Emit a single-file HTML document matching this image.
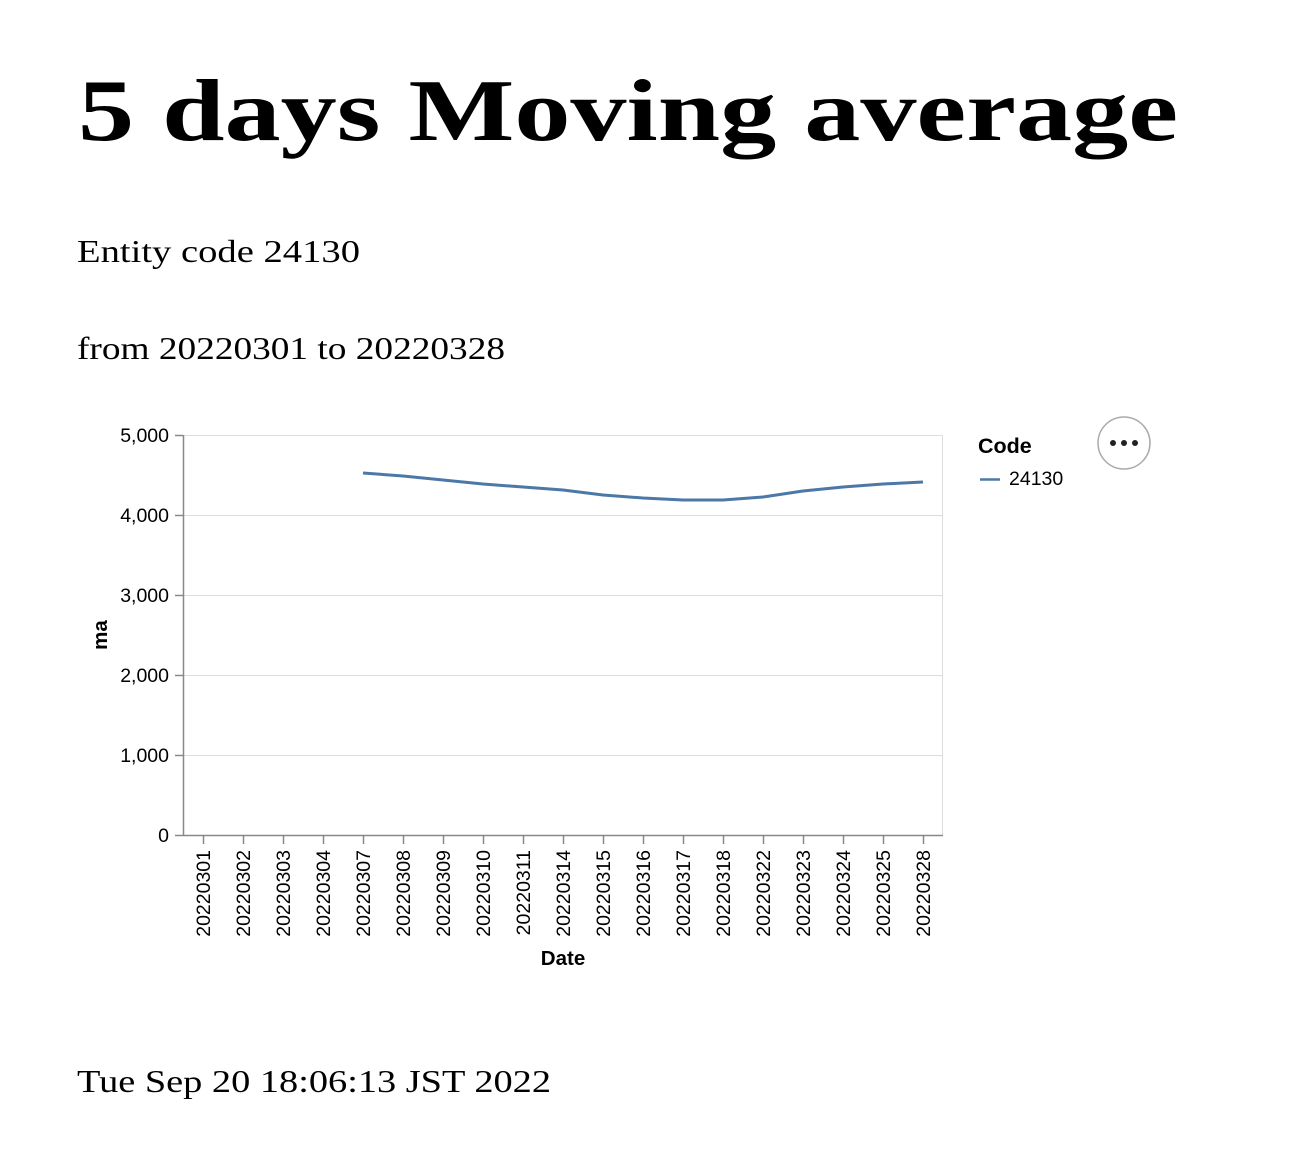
<!DOCTYPE html>
<html><head><meta charset="utf-8"><style>
html,body{margin:0;padding:0;background:#fff;}
svg{display:block;}
.s{font-family:"Liberation Sans",sans-serif;}
</style></head><body>
<svg width="1304" height="1154" viewBox="0 0 1304 1154" xmlns="http://www.w3.org/2000/svg">
<g font-family="Liberation Serif, serif" fill="#000">
<text x="78" y="140" font-size="88" font-weight="bold" textLength="1100" lengthAdjust="spacingAndGlyphs">5 days Moving average</text>
<text x="77" y="262" font-size="32" textLength="283" lengthAdjust="spacingAndGlyphs">Entity code 24130</text>
<text x="77" y="359" font-size="32" textLength="428" lengthAdjust="spacingAndGlyphs">from 20220301 to 20220328</text>
<text x="77" y="1092" font-size="32" textLength="474" lengthAdjust="spacingAndGlyphs">Tue Sep 20 18:06:13 JST 2022</text>
</g>
<g stroke="#ddd" stroke-width="1">
<line x1="183" y1="435.5" x2="943" y2="435.5"/>
<line x1="183" y1="515.5" x2="943" y2="515.5"/>
<line x1="183" y1="595.5" x2="943" y2="595.5"/>
<line x1="183" y1="675.5" x2="943" y2="675.5"/>
<line x1="183" y1="755.5" x2="943" y2="755.5"/>
<line x1="942.5" y1="435" x2="942.5" y2="835"/>
</g>
<g stroke="#888" stroke-width="1.5">
<line x1="183.5" y1="435" x2="183.5" y2="836"/>
<line x1="183" y1="835.5" x2="943" y2="835.5"/>
<line x1="175" y1="435.5" x2="183" y2="435.5"/>
<line x1="175" y1="515.5" x2="183" y2="515.5"/>
<line x1="175" y1="595.5" x2="183" y2="595.5"/>
<line x1="175" y1="675.5" x2="183" y2="675.5"/>
<line x1="175" y1="755.5" x2="183" y2="755.5"/>
<line x1="175" y1="835.5" x2="183" y2="835.5"/>
<path d="M203.5 836v8M243.5 836v8M283.5 836v8M323.5 836v8M363.5 836v8M403.5 836v8M443.5 836v8M483.5 836v8M523.5 836v8M563.5 836v8M603.5 836v8M643.5 836v8M683.5 836v8M723.5 836v8M763.5 836v8M803.5 836v8M843.5 836v8M883.5 836v8M923.5 836v8"/>
</g>
<g class="s" font-size="19.5" fill="#000" text-anchor="end">
<text x="169" y="442">5,000</text>
<text x="169" y="522">4,000</text>
<text x="169" y="602">3,000</text>
<text x="169" y="682">2,000</text>
<text x="169" y="762">1,000</text>
<text x="169" y="842">0</text>
</g>
<g class="s" font-size="19.5" fill="#000" text-anchor="end">
<text transform="translate(210,850) rotate(-90)">20220301</text>
<text transform="translate(250,850) rotate(-90)">20220302</text>
<text transform="translate(290,850) rotate(-90)">20220303</text>
<text transform="translate(330,850) rotate(-90)">20220304</text>
<text transform="translate(370,850) rotate(-90)">20220307</text>
<text transform="translate(410,850) rotate(-90)">20220308</text>
<text transform="translate(450,850) rotate(-90)">20220309</text>
<text transform="translate(490,850) rotate(-90)">20220310</text>
<text transform="translate(530,850) rotate(-90)">20220311</text>
<text transform="translate(570,850) rotate(-90)">20220314</text>
<text transform="translate(610,850) rotate(-90)">20220315</text>
<text transform="translate(650,850) rotate(-90)">20220316</text>
<text transform="translate(690,850) rotate(-90)">20220317</text>
<text transform="translate(730,850) rotate(-90)">20220318</text>
<text transform="translate(770,850) rotate(-90)">20220322</text>
<text transform="translate(810,850) rotate(-90)">20220323</text>
<text transform="translate(850,850) rotate(-90)">20220324</text>
<text transform="translate(890,850) rotate(-90)">20220325</text>
<text transform="translate(930,850) rotate(-90)">20220328</text>
</g>
<text class="s" x="563" y="965" font-size="20.5" font-weight="bold" text-anchor="middle">Date</text>
<text class="s" transform="translate(107,635) rotate(-90)" font-size="20.5" font-weight="bold" text-anchor="middle">ma</text>
<polyline fill="none" stroke="#4c78a8" stroke-width="3" points="363,473 403,476 443,480 483,484 523,487 563,490 603,495 643,498 683,500 723,500 763,497 803,491 843,487 883,484 923,482"/>
<text class="s" x="978" y="453" font-size="21.5" font-weight="bold">Code</text>
<line x1="980" y1="479.5" x2="1000" y2="479.5" stroke="#4c78a8" stroke-width="2.5"/>
<text class="s" x="1009" y="485" font-size="19.5">24130</text>
<circle cx="1124" cy="443" r="26" fill="#fff" stroke="#aaa" stroke-width="1.5"/>
<circle cx="1113" cy="443" r="3" fill="#222"/>
<circle cx="1124" cy="443" r="3" fill="#222"/>
<circle cx="1135" cy="443" r="3" fill="#222"/>
</svg>
</body></html>
